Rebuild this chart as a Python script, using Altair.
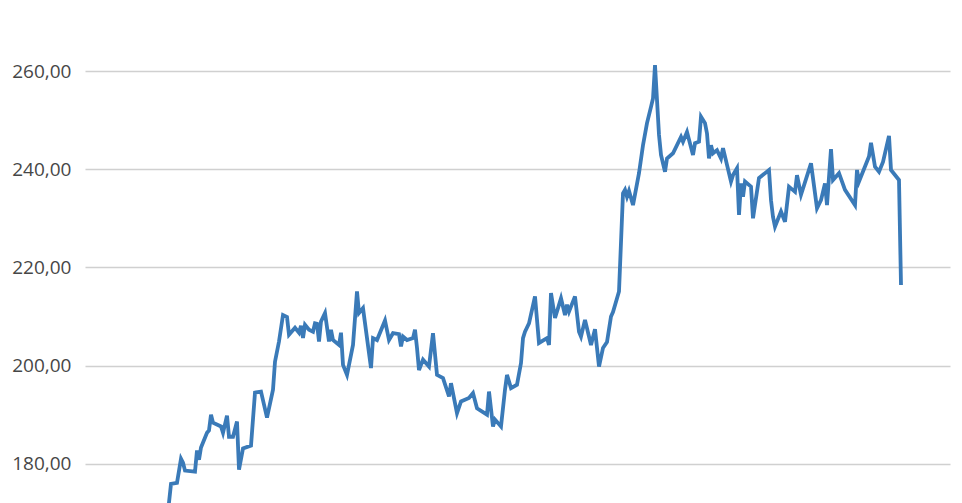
import altair as alt
import pandas as pd

# trading-day index (x) and closing value (y)
days = [40, 43, 46, 48, 49, 50, 55, 56, 57, 58, 61, 62, 63, 64, 68, 69, 71, 72, 74, 76,
        77, 79, 83, 85, 88, 91, 94, 95, 97, 99, 101, 102, 105, 107, 108, 109, 110, 112, 114, 115,
        116, 117, 118, 120, 122, 123, 124, 127, 128, 129, 131, 134, 136, 137, 139, 143, 144, 146, 150, 152,
        154, 157, 158, 159, 161, 164, 165, 166, 167, 169, 172, 174, 176, 179, 182, 183, 186, 188, 192, 194,
        196, 201, 202, 204, 205, 208, 210, 211, 213, 216, 218, 219, 220, 222, 225, 227, 231, 232, 233, 235,
        238, 240, 241, 242, 245, 247, 248, 250, 253, 255, 257, 259, 261, 263, 264, 267, 269, 270, 271, 272,
        274, 277, 279, 281, 283, 284, 285, 287, 288, 290, 291, 294, 298, 299, 301, 304, 305, 307, 308, 310,
        311, 312, 313, 314, 316, 318, 319, 321, 323, 324, 326, 327, 328, 329, 330, 333, 334, 337, 342, 343,
        344, 345, 348, 350, 352, 355, 356, 358, 363, 366, 368, 370, 371, 373, 374, 377, 380, 385, 386, 387,
        392, 393, 395, 397, 399, 402, 403, 407, 408]

values = [164.5, 175.9, 176.1, 181.0, 180.2, 178.6, 178.4, 182.7, 180.8, 183.3, 186.3, 186.8, 190.0, 188.35, 187.6, 186.3, 189.8, 185.5, 185.5, 188.6,
          178.8, 183.1, 183.7, 194.5, 194.7, 189.4, 195.1, 200.8, 204.9, 210.3, 209.9, 206.3, 207.7, 206.7, 208.1, 205.65, 208.3, 207.3, 206.9, 208.6,
          208.5, 204.9, 209.0, 210.7, 204.9, 207.3, 205.2, 204.2, 206.7, 200.15, 198.1, 204.2, 215.1, 210.7, 211.7, 199.5, 205.6, 205.2, 209.2, 205.2,
          206.6, 206.4, 203.9, 205.9, 205.2, 205.6, 207.3, 203.6, 199.1, 201.2, 199.8, 206.6, 198.1, 197.45, 193.7, 196.4, 190.3, 192.7, 193.4, 194.4,
          191.3, 190.0, 194.7, 187.6, 189.0, 187.6, 195.1, 198.1, 195.4, 196.1, 200.5, 205.6, 206.9, 208.6, 214.1, 204.6, 205.6, 204.2, 214.75, 209.7,
          213.7, 210.3, 212.4, 211.0, 214.1, 206.9, 205.9, 209.3, 204.2, 207.4, 199.8, 203.6, 204.8, 210.0, 210.9, 215.1, 235.1, 235.8, 234.4, 235.6,
          232.7, 239.2, 244.9, 249.4, 252.7, 254.4, 261.2, 247.0, 242.9, 239.5, 242.2, 243.25, 246.6, 245.6, 247.6, 242.9, 245.3, 245.6, 250.7, 249.4,
          247.3, 242.2, 244.9, 243.25, 243.9, 242.2, 244.3, 240.9, 237.5, 238.8, 240.2, 230.7, 237.1, 234.4, 237.5, 236.45, 230.0, 238.2, 239.85, 233.7,
          230.3, 228.3, 231.4, 229.3, 236.45, 235.4, 238.8, 234.8, 241.2, 232.05, 233.7, 237.1, 232.7, 244.1, 237.8, 239.2, 235.8, 232.7, 239.85, 237.5,
          242.6, 245.4, 240.5, 239.5, 241.5, 246.8, 239.85, 237.8, 216.4]

y_ticks = [180, 200, 220, 240, 260]

df = pd.DataFrame({"day": days, "value": values})

chart = (
    alt.Chart(df)
    .mark_line(color="#3a7ab8", strokeWidth=3.8, clip=True)
    .encode(
        x=alt.X("day:Q", scale=alt.Scale(domain=[0, 432.5], nice=False, zero=False), axis=None),
        y=alt.Y(
            "value:Q",
            scale=alt.Scale(domain=[172, 270], nice=False, zero=False),
            axis=alt.Axis(
                values=y_ticks,
                title=None,
                domain=False,
                ticks=False,
                tickSize=0,
                grid=True,
                gridColor="#d0d0d0",
                gridWidth=1.5,
                labelFont="Open Sans",
                labelFontSize=19,
                labelColor="#474747",
                labelPadding=14,
                labelExpr="replace(format(datum.value, '.2f'), '.', ',')",
            ),
        ),
    )
    .properties(
        width=865,
        height=481,
        autosize=alt.AutoSizeParams(type="none"),
        padding={"left": 77, "top": 14, "right": 4, "bottom": 0},
    )
    .configure_view(stroke=None)
)

chart.save("out.html", embed_options={"renderer": "svg", "actions": False})
